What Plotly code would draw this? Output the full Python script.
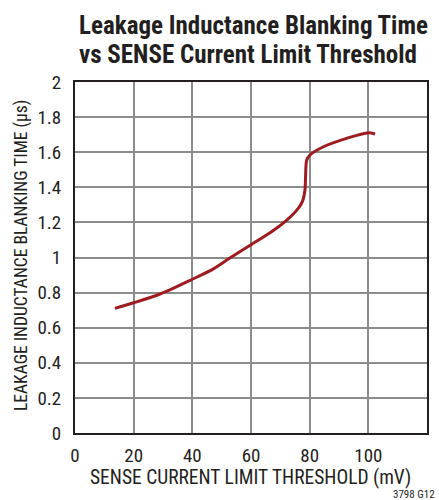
import plotly.graph_objects as go

x_mv = [13.6, 20, 29, 40, 47.2, 52.8, 60, 66.5, 71.6, 76.1, 77.5, 78.4, 78.6, 79.0, 80.1, 84.7, 92.6, 100, 102.3]
t_us = [0.71, 0.742, 0.792, 0.876, 0.935, 0.997, 1.073, 1.141, 1.204, 1.28, 1.318, 1.385, 1.46, 1.556, 1.584, 1.631, 1.679, 1.711, 1.704]

x_ticks = [0, 20, 40, 60, 80, 100, 120]
y_ticks = [0, 0.2, 0.4, 0.6, 0.8, 1, 1.2, 1.4, 1.6, 1.8, 2]
y_tick_text = ["0", "0.2", "0.4", "0.6", "0.8", "1", "1.2", "1.4", "1.6", "1.8", "2"]

font = "Liberation Sans Narrow, Arial Narrow, Roboto Condensed, sans-serif"
ink = "#231f20"

W, H = 439, 500
L, R, T, B = 75, 12, 82, 67
ph = H - T - B
pw = W - L - R

def py(Y):
    return (H - B - Y) / ph

def px(X):
    return (X - L) / pw

fig = go.Figure()
fig.add_trace(go.Scatter(x=x_mv, y=t_us, mode="lines",
                         line=dict(color="#9e1b20", width=3, shape="spline", smoothing=0.8),
                         showlegend=False, hoverinfo="skip"))

fig.update_layout(
    width=W, height=H,
    margin=dict(l=L, r=R, t=T, b=B),
    paper_bgcolor="white", plot_bgcolor="white",
    font=dict(family=font, color=ink, size=16),
    annotations=[
        dict(text="<b>Leakage Inductance Blanking Time</b>", xref="paper", x=px(77),
             xanchor="left", yref="paper", y=py(26), yanchor="middle", showarrow=False,
             font=dict(family=font, size=25, color=ink)),
        dict(text="<b>vs SENSE Current Limit Threshold</b>", xref="paper", x=px(77),
             xanchor="left", yref="paper", y=py(54), yanchor="middle", showarrow=False,
             font=dict(family=font, size=25, color=ink)),
        dict(text="SENSE CURRENT LIMIT THRESHOLD (mV)", xref="paper", x=px(250),
             xanchor="center", yref="paper", y=py(477), yanchor="middle", showarrow=False,
             font=dict(family=font, size=19.5, color=ink)),
        dict(text="LEAKAGE INDUCTANCE BLANKING TIME (μs)", xref="paper", x=px(21),
             xanchor="center", yref="paper", y=py(256), yanchor="middle", textangle=-90, showarrow=False,
             font=dict(family=font, size=17.5, color=ink)),
        dict(text="3798 G12", xref="paper", x=px(437), xanchor="right",
             yref="paper", y=py(494), yanchor="middle", showarrow=False,
             font=dict(family=font, size=11, color=ink)),
    ],
)
fig.update_xaxes(range=[0, 120], tickvals=x_ticks, showgrid=True, gridcolor="#8c8c8c", gridwidth=1.5,
                 zeroline=False, showline=True, linecolor=ink, linewidth=2, mirror=True,
                 ticks="", tickfont=dict(size=19), automargin=False, ticklabelstandoff=4)
fig.update_yaxes(range=[0, 2], tickvals=y_ticks, ticktext=y_tick_text, showgrid=True, gridcolor="#8c8c8c", gridwidth=1.5,
                 zeroline=False, showline=True, linecolor=ink, linewidth=2, mirror=True,
                 ticks="", tickfont=dict(size=19), automargin=False, ticklabelstandoff=8)

fig.write_html("out.html", config={"displayModeBar": False},
               post_script="document.body.style.margin='0';document.body.style.overflow='hidden';")
